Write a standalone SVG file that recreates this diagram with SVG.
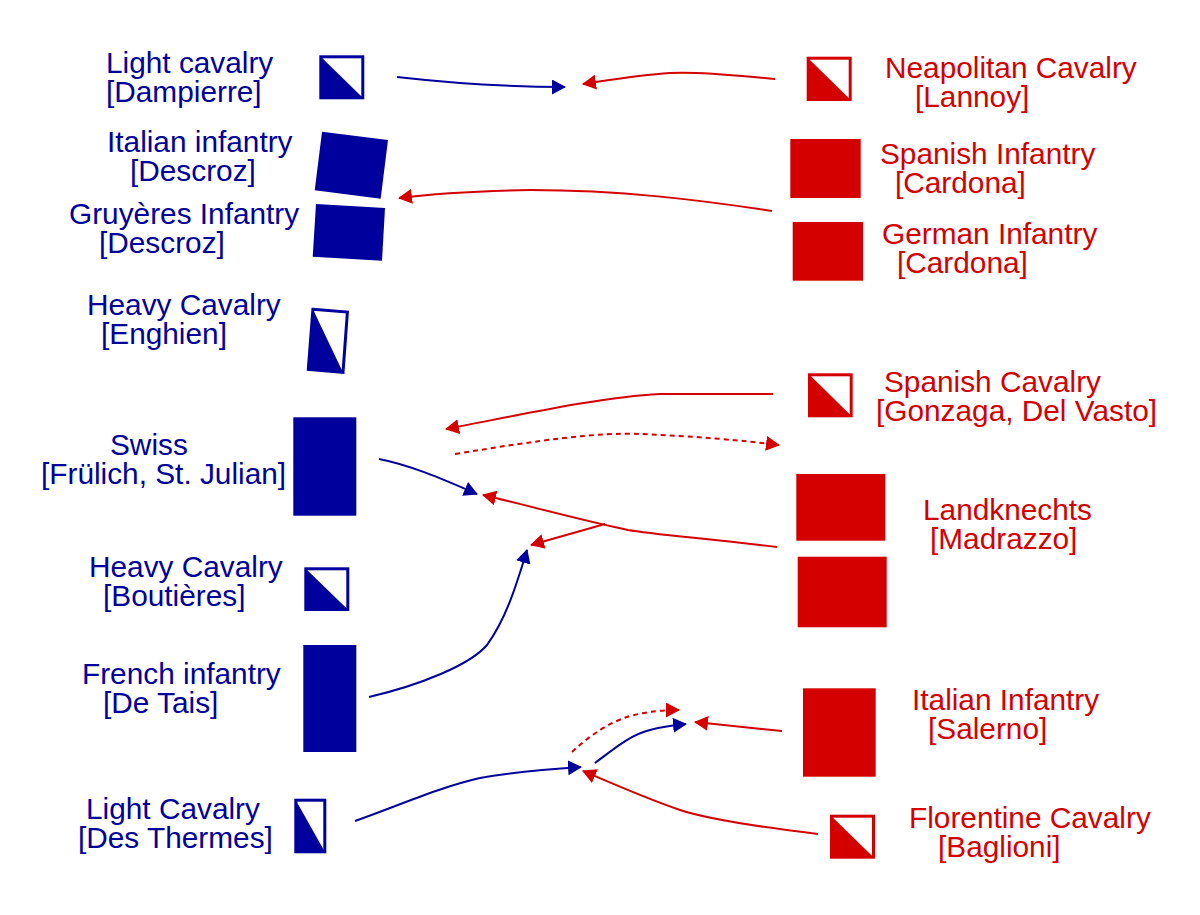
<svg xmlns="http://www.w3.org/2000/svg" width="1200" height="915" viewBox="0 0 1200 915">
<defs>
<style>
.bt{font-family:"Liberation Sans",Arial,sans-serif;font-size:29.8px;fill:#00009c}
.rt{font-family:"Liberation Sans",Arial,sans-serif;font-size:29.8px;fill:#d40000}
.bf{fill:#00009c}
.rf{fill:#d40000}
.bo{fill:#fff;stroke:#00009c;stroke-width:3}
.ro{fill:#fff;stroke:#d40000;stroke-width:3}
.bl{fill:none;stroke:#00009c;stroke-width:2}
.rl{fill:none;stroke:#d40000;stroke-width:2}
.rd{fill:none;stroke:#d40000;stroke-width:2;stroke-dasharray:5,4}
</style>
<marker id="ab" viewBox="0 0 14 15" refX="13" refY="7.5" markerWidth="14" markerHeight="15" markerUnits="userSpaceOnUse" orient="auto"><path d="M0,0 L14,7.5 L0,15 z" fill="#00009c"/></marker>
<marker id="ar" viewBox="0 0 14 15" refX="13" refY="7.5" markerWidth="14" markerHeight="15" markerUnits="userSpaceOnUse" orient="auto"><path d="M0,0 L14,7.5 L0,15 z" fill="#d40000"/></marker>
</defs>
<rect width="1200" height="915" fill="#fff"/>

<g id="dampierre">
<rect class="bo" x="320.8" y="56.8" width="42" height="41"/>
<polygon class="bf" points="320.8,56.8 362.8,97.8 320.8,97.8"/>
<text class="bt" x="106" y="73">Light cavalry</text>
<text class="bt" x="106" y="102">[Dampierre]</text>
</g>
<g id="italian-infantry-descroz">
<polygon class="bf" points="322,131.7 388,140 380.7,198.7 314.7,190.3"/>
<text class="bt" x="107" y="152">Italian infantry</text>
<text class="bt" x="130" y="181">[Descroz]</text>
</g>
<g id="gruyeres-infantry">
<polygon class="bf" points="316,204 385,208 382,260.7 312.7,256.7"/>
<text class="bt" x="69" y="224">Gruyères Infantry</text>
<text class="bt" x="99" y="253">[Descroz]</text>
</g>
<g id="heavy-cavalry-enghien">
<polygon class="bo" points="312.9,309.3 347.4,312.1 343,372.4 308.3,369.3"/>
<polygon class="bf" points="312.9,309.3 343,372.4 308.3,369.3"/>
<text class="bt" x="87" y="315">Heavy Cavalry</text>
<text class="bt" x="101" y="344">[Enghien]</text>
</g>
<g id="swiss">
<rect class="bf" x="293.3" y="417.3" width="63" height="98.4"/>
<text class="bt" x="110" y="455">Swiss</text>
<text class="bt" x="41" y="484">[Frülich, St. Julian]</text>
</g>
<g id="heavy-cavalry-boutieres">
<rect class="bo" x="305.8" y="568.8" width="42" height="40.7"/>
<polygon class="bf" points="305.8,568.8 347.8,609.5 305.8,609.5"/>
<text class="bt" x="89" y="577">Heavy Cavalry</text>
<text class="bt" x="103" y="606">[Boutières]</text>
</g>
<g id="french-infantry">
<rect class="bf" x="303.3" y="645" width="53" height="107"/>
<text class="bt" x="82" y="684">French infantry</text>
<text class="bt" x="103" y="713">[De Tais]</text>
</g>
<g id="light-cavalry-thermes">
<rect class="bo" x="295.8" y="800.2" width="29" height="51.6"/>
<polygon class="bf" points="295.8,800.2 324.8,851.8 295.8,851.8"/>
<text class="bt" x="86" y="819">Light Cavalry</text>
<text class="bt" x="78" y="848">[Des Thermes]</text>
</g>

<g id="neapolitan-cavalry">
<rect class="ro" x="808.2" y="58.2" width="42" height="41.3"/>
<polygon class="rf" points="808.2,58.2 850.2,99.5 808.2,99.5"/>
<text class="rt" x="885" y="78">Neapolitan Cavalry</text>
<text class="rt" x="915" y="107">[Lannoy]</text>
</g>
<g id="spanish-infantry">
<rect class="rf" x="790.3" y="139" width="70.4" height="59"/>
<text class="rt" x="880" y="164">Spanish Infantry</text>
<text class="rt" x="895" y="193">[Cardona]</text>
</g>
<g id="german-infantry">
<rect class="rf" x="792.7" y="222" width="70.3" height="58.7"/>
<text class="rt" x="882" y="244">German Infantry</text>
<text class="rt" x="897" y="273">[Cardona]</text>
</g>
<g id="spanish-cavalry">
<rect class="ro" x="809.5" y="374.8" width="41.7" height="41"/>
<polygon class="rf" points="809.5,374.8 851.2,415.8 809.5,415.8"/>
<text class="rt" x="884" y="392">Spanish Cavalry</text>
<text class="rt" x="876" y="421">[Gonzaga, Del Vasto]</text>
</g>
<g id="landknechts">
<rect class="rf" x="796.3" y="474" width="89" height="66.7"/>
<rect class="rf" x="797.7" y="556.7" width="89" height="70.6"/>
<text class="rt" x="923" y="520">Landknechts</text>
<text class="rt" x="930" y="549">[Madrazzo]</text>
</g>
<g id="italian-infantry-salerno">
<rect class="rf" x="803" y="688.3" width="72.7" height="88.4"/>
<text class="rt" x="912" y="710">Italian Infantry</text>
<text class="rt" x="928" y="739">[Salerno]</text>
</g>
<g id="florentine-cavalry">
<rect class="ro" x="831.5" y="816.2" width="42" height="41"/>
<polygon class="rf" points="831.5,816.2 873.5,857.2 831.5,857.2"/>
<text class="rt" x="909" y="828">Florentine Cavalry</text>
<text class="rt" x="938" y="857">[Baglioni]</text>
</g>

<g id="connectors">
<path class="bl" marker-end="url(#ab)" d="M397,77 C450,83 500,87 565,87"/>
<path class="bl" marker-end="url(#ab)" d="M379,459 C410,465 440,478 477,494"/>
<path class="bl" marker-end="url(#ab)" d="M369,697 C420,685 470,665 487,645 C505,620 515,590 527,550"/>
<path class="bl" marker-end="url(#ab)" d="M355,821 C400,805 440,787 480,778 C520,771 550,769 581,767"/>
<path class="bl" marker-end="url(#ab)" d="M595,763 C615,748 630,735 650,730 C665,726 675,725 686,724"/>
<path class="rl" marker-end="url(#ar)" d="M775,79 C740,76 700,71 670,73 C640,75 610,80 583,84"/>
<path class="rl" marker-end="url(#ar)" d="M772,211 C700,200 620,190 530,190 C470,191 430,194 399,198"/>
<path class="rl" marker-end="url(#ar)" d="M773,394 L660,394 C600,397 520,415 446,429"/>
<path class="rd" marker-end="url(#ar)" d="M455,454 C540,440 600,432 640,434 C690,436 740,440 779,445"/>
<path class="rl" marker-end="url(#ar)" d="M777,547 C700,538 650,534 628,530 C580,520 530,506 483,495"/>
<path class="rl" marker-end="url(#ar)" d="M605,524 L531,545"/>
<path class="rl" marker-end="url(#ar)" d="M782,731 L695,722"/>
<path class="rl" marker-end="url(#ar)" d="M818,834 C760,827 710,820 680,810 C650,800 620,787 583,771"/>
<path class="rd" marker-end="url(#ar)" d="M572,752 C590,735 610,722 630,716 C650,711 665,710 679,710"/>
</g>
</svg>
